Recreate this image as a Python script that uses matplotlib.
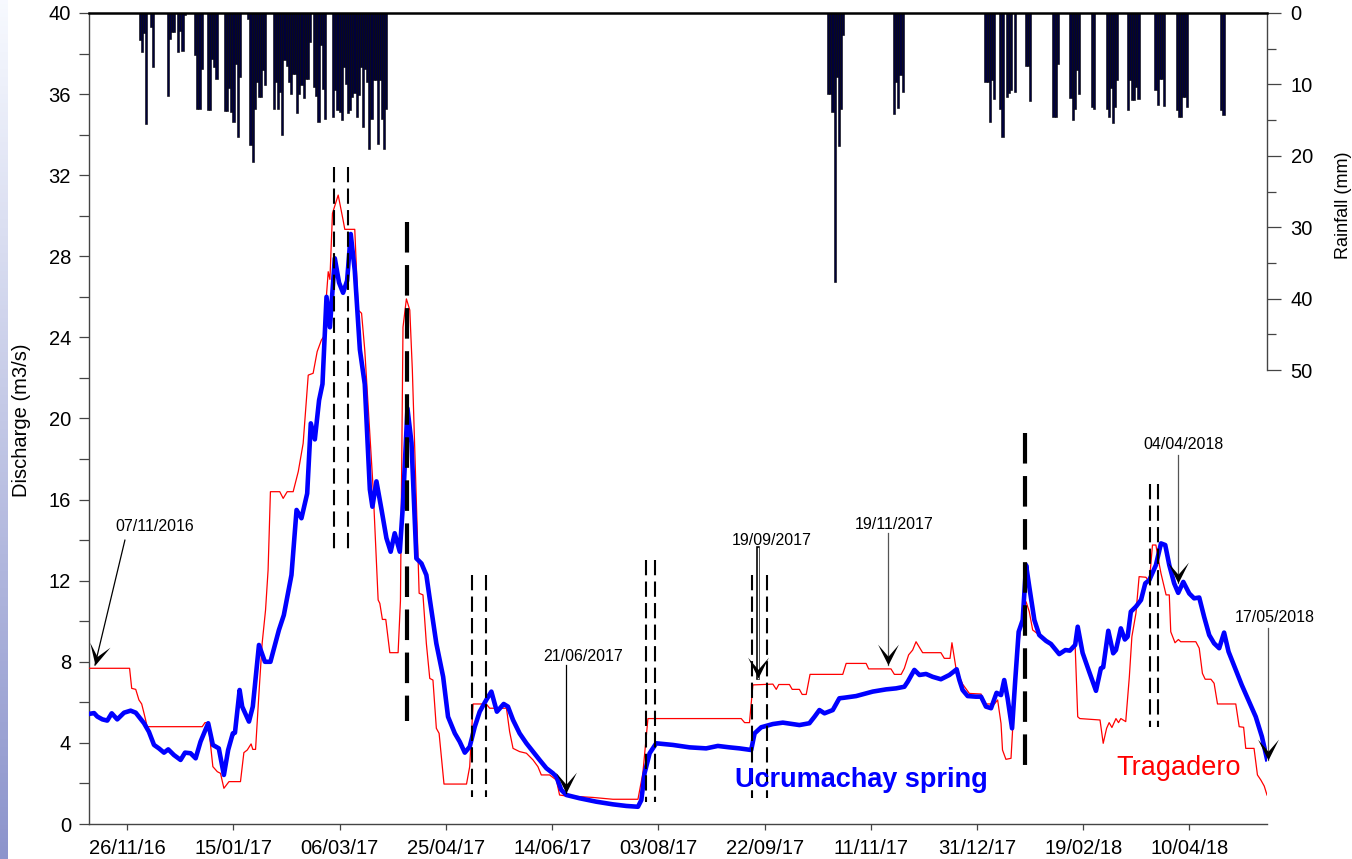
import numpy as np
import pandas as pd
import matplotlib
matplotlib.use('Agg')
import matplotlib.pyplot as plt
from matplotlib.markers import MarkerStyle
from matplotlib.path import Path
from matplotlib.transforms import Affine2D

plt.rcParams['font.family'] = ['Liberation Sans', 'DejaVu Sans']
plt.rcParams['lines.scale_dashes'] = False

# ---------------- data (x = days since START) ----------------
START = pd.Timestamp('2016-11-08')

TICK_DATES = ['2016-11-26', '2017-01-15', '2017-03-06', '2017-04-25', '2017-06-14',
              '2017-08-03', '2017-09-22', '2017-11-11', '2017-12-31', '2018-02-19', '2018-04-10']
TICK_LABELS = ['26/11/16', '15/01/17', '06/03/17', '25/04/17', '14/06/17',
               '03/08/17', '22/09/17', '11/11/17', '31/12/17', '19/02/18', '10/04/18']

# Ucrumachay spring discharge (m3/s)
UCRU_DAY = [0, 2.4, 3.9, 6.3, 8.6, 10.7, 13.3, 16.5, 19.6, 22, 25.9, 28.2, 30.6, 32.9, 35.3, 37.3,
            40, 43.1, 45.2, 47.8, 50.2, 52.5, 56.1, 58.3, 61.1, 63.5, 65.5, 67.7, 68.7, 70.9, 72.1,
            75.3, 77.1, 80, 82.8, 85.4, 89.4, 91.7, 95.3, 97.7, 100, 102.7, 104.4, 106.3, 108.3,
            109.9, 111.8, 113.4, 115.7, 117.7, 119.6, 121.5, 123.2, 125.1, 127.5, 129.8, 132.2,
            133.4, 135.3, 137.7, 140, 142, 143.9, 146.3, 147.8, 149.9, 151.8, 154.1, 156.5, 158.8,
            160.4, 163.5, 166.7, 169, 172.2, 174.5, 176.9, 179.2, 181.6, 183.9, 187, 189.4, 192,
            195.2, 197.2, 199.6, 202.7, 205.9, 209, 212.1, 215.3, 218.4, 220, 222.3, 224.7, 230.9,
            238.8, 246.6, 252.9, 258.4, 260, 261.5, 263.9, 267, 274.8, 282.7, 290.5, 296, 301.5,
            306.2, 311.7, 313.3, 316.4, 321.9, 326.6, 334.4, 339.1, 341.5, 343.8, 346.2, 350.1,
            353.2, 355.6, 361.1, 368.9, 375.2, 379.9, 383.8, 385.4, 388.5, 390.9, 394, 397.1, 401,
            405, 408.4, 409.7, 411.2, 413.6, 417.5, 419.9, 422.2, 424.6, 427.2, 429.3, 430.8, 432.4,
            434.5, 436, 437.6, 439.5, 441.1, 442.6, 445, 447.3, 450.5, 452.8, 456.7, 459.6, 461.7,
            464.2, 465.4, 467.7, 470.8, 474, 476.3, 477.4, 479.8, 482.1, 483.4, 485.7, 487.6, 488.9,
            490.4, 492.8, 495.2, 497.2, 499.1, 502.2, 504.6, 506.6, 508.5, 510.8, 512.7, 515.1,
            517.9, 520.2, 522.6, 524.9, 527.3, 529.6, 532, 534.3, 536.4, 539.5, 542.6, 546.1, 549.2,
            552.1, 554.5]
UCRU_Q = [5.43, 5.47, 5.3, 5.16, 5.1, 5.46, 5.16, 5.49, 5.59, 5.49, 4.97, 4.55, 3.9, 3.73, 3.52, 3.68,
          3.4, 3.16, 3.52, 3.49, 3.24, 4.06, 4.97, 3.9, 3.73, 2.42, 3.65, 4.47, 4.5, 6.61, 5.79,
          5.05, 5.79, 8.83, 8.0, 8.0, 9.57, 10.3, 12.28, 15.49, 15.08, 16.3, 19.76, 18.97, 20.9,
          21.7, 26.0, 24.5, 27.9, 26.7, 26.2, 26.8, 29.1, 27.3, 23.4, 21.7, 16.5,
          15.65, 16.9, 15.5, 14.1, 13.43, 14.34, 13.43, 15.8, 20.5, 18.8, 13.1, 12.85, 12.28,
          11.1, 8.9, 7.26, 5.29, 4.47, 4.06, 3.52, 3.81, 4.8, 5.54, 6.12, 6.53, 5.54,
          5.92, 5.79, 5.13, 4.47, 3.98, 3.57, 3.16, 2.75, 2.5, 2.33, 1.68, 1.43, 1.27,
          1.1, 0.97, 0.89, 0.85, 1.18, 2.5, 3.49, 3.98, 3.9, 3.78, 3.73, 3.85, 3.78,
          3.73, 3.65, 4.47, 4.77, 4.93, 5.0, 4.88, 4.97, 5.29, 5.62, 5.46, 5.62,
          6.2, 6.23, 6.31, 6.53, 6.64, 6.69, 6.77, 7.02, 7.6, 7.35, 7.4, 7.26, 7.14,
          7.35, 7.63, 7.1, 6.61, 6.31, 6.28, 6.28, 5.79, 5.71, 6.47, 6.36, 7.1, 6.2,
          4.72, 7.1, 9.48, 10.06, 12.77, 11.7, 10.06, 9.32, 9.03, 8.88, 8.38, 8.58, 8.55,
          8.83, 9.73, 8.44, 7.51, 6.57, 7.68, 7.73, 9.53, 8.42, 8.58, 9.65, 9.1, 9.24,
          10.47, 10.72, 11.05, 11.87, 12.03, 12.77, 13.84, 13.76, 12.77, 11.87, 11.4, 11.94,
          11.37, 11.13, 11.17, 10.22, 9.32, 8.91, 8.67, 9.44, 8.5, 7.68, 6.86, 6.03, 5.29,
          4.31, 3.2]

# Tragadero discharge (m3/s)
TRAG_DAY = [0, 19.1, 20.1, 22, 23.5, 24.8, 25.9, 27.4, 53.3, 54.6, 56.1, 58.3, 60.4, 61.9, 63.5, 65.9,
            71.3, 72.9, 74.5, 76.3, 77.1, 78.4, 80, 81.5, 83.1, 84.3, 85.4, 89.8, 91.4, 93.3, 96.1,
            98.5, 100.8, 103.2, 105.5, 107.4, 109.4, 110.5, 111.5, 112.6, 113.4, 114.6, 117.3,
            119.6, 120.4, 125.1, 126.7, 128.3, 129.8, 133.7, 136.1, 136.9, 138.1, 139.7, 141.6,
            145.5, 146.6, 147.8, 149.4, 151, 152.2, 154.1, 155.4, 157.2, 158.8, 160.4, 161.9,
            163.5, 164.8, 167.1, 177.7, 179.2, 180.8, 187, 188.6, 196.5, 198, 199.6, 202.7, 205.9,
            209, 211.3, 212.9, 216.8, 220, 221.5, 224.7, 230.9, 237.2, 246.6, 258.4, 260.7, 263.1,
            307, 308.6, 310.9, 312.5, 321.9, 323.5, 324.7, 329.7, 331, 334.4, 335.7, 337.6, 339.4,
            354.8, 356.4, 365.8, 367, 377.5, 379.1, 382.3, 383.8, 385.8, 387.7, 389.3, 392.4, 401,
            402.6, 405.3, 406.2, 408.1, 411.2, 414.4, 419.9, 421.4, 426.2, 427.7, 429.3, 430,
            431.6, 434, 435.1, 437.1, 438.7, 441.1, 442.6, 444.2, 447.3, 452, 456.7, 463, 464.2,
            465.4, 466.4, 475.9, 477.4, 479, 480.2, 481.5, 483.4, 484.6, 485.7, 488, 489.7, 490.9,
            492.8, 494.3, 497.5, 499.1, 500.6, 502.2, 503.4, 504.6, 507, 508.5, 509.2, 511.2,
            512.8, 513.9, 521, 522.6, 524.1, 525.4, 528.1, 529.6, 531.2, 539.8, 541.4, 543.5,
            544.5, 548.4, 550, 551.6, 553.2, 554.5]
TRAG_Q = [7.68, 7.68, 6.69, 6.64, 6.12, 5.92, 5.46, 4.8, 4.8, 5.0, 5.0, 2.83, 2.58, 2.5, 1.76, 2.09,
          2.09, 3.52, 3.65, 3.95, 3.68, 3.68, 6.45, 8.91, 10.55, 12.53, 16.39, 16.39, 16.06, 16.39, 16.39,
          17.38, 18.77, 22.14, 22.23, 23.3, 23.87, 24.04, 25.68, 27.24, 26.86, 30.12, 31.02,
          29.79, 29.33, 29.33, 25.35, 25.19, 23.38, 16.63, 11.05, 10.88, 10.09, 10.09, 8.45,
          8.45, 11.0, 24.5, 25.9, 25.35, 22.4, 15.8, 11.38, 11.3, 8.9, 7.18, 7.1,
          4.72, 4.47, 1.97, 1.97, 2.83, 5.92, 5.92, 5.71, 5.71, 4.55, 3.73, 3.57, 3.49,
          3.16, 2.83, 2.42, 2.42, 2.17, 1.43, 1.38, 1.35, 1.31, 1.22, 1.22, 2.5, 5.2,
          5.2, 5.0, 5.0, 6.86, 6.9, 6.64, 6.88, 6.88, 6.64, 6.64, 6.39, 6.39, 7.38,
          7.38, 7.92, 7.92, 7.65, 7.65, 7.38, 7.38, 7.68, 8.34, 8.58, 8.99, 8.45, 8.45,
          8.17, 8.17, 8.94, 7.68, 6.9, 6.44, 6.41, 5.92, 5.92, 6.12, 4.96, 3.65,
          3.19, 3.24, 5.29, 8.25, 9.89, 10.96, 10.47, 9.57, 9.32, 8.91, 8.45, 8.67, 8.78,
          5.29, 5.2, 5.13, 3.98, 4.72, 5.0, 4.76, 5.2, 5.0, 5.2, 5.05, 7.26, 9.24,
          10.39, 12.2, 12.17, 11.94, 13.76, 13.76, 13.02, 12.36, 11.3, 11.3, 9.48, 8.94,
          9.1, 8.99, 8.99, 8.67, 7.43, 7.14, 7.14, 6.94, 5.92, 5.92, 4.8, 4.77,
          3.73, 3.73, 2.42, 2.17, 1.87, 1.43]

# Daily rainfall (mm)
RAIN_DAY = [24, 25, 26, 27, 29, 30, 37, 38, 39, 40, 42, 43, 44, 45, 50, 51, 52, 53, 56, 57, 58, 59, 60,
            64, 65, 66, 67, 68, 69, 70, 71, 75, 76, 77, 78, 79, 80, 81, 82, 83, 87, 88, 89, 90, 91,
            92, 93, 94, 95, 96, 97, 98, 99, 100, 101, 102, 103, 104, 106, 107, 108, 109, 110, 111,
            115, 116, 117, 118, 119, 120, 121, 122, 123, 124, 125, 126, 127, 128, 129, 130, 131,
            132, 133, 134, 135, 136, 137, 138, 139, 140,
            348, 349, 350, 351, 352, 353, 354, 355,
            379, 380, 381, 382, 383,
            422, 423, 424, 425, 426, 429, 430, 432, 433, 434, 436,
            441, 442, 443, 454, 455, 456, 462, 463, 464, 465, 466, 472, 473,
            479, 480, 481, 482, 483, 484, 489, 490, 491, 492, 493, 494,
            502, 503, 504, 505, 506, 512, 513, 514, 515, 516, 517, 533, 534]
RAIN_MM = [3.8, 5.4, 2.8, 15.5, 2.0, 7.6, 11.6, 3.6, 2.6, 2.6, 5.4, 2.5, 5.3, 0.3, 5.9, 13.4, 13.4, 7.9,
           13.6, 13.6, 6.4, 7.5, 9.2, 13.7, 13.7, 10.5, 13.8, 15.3, 7.1, 17.3, 9.0, 0.8, 18.5, 20.8,
           13.4, 9.6, 11.8, 11.8, 8.0, 10.1, 13.5, 9.6, 13.5, 11.0, 17.1, 6.6, 7.4, 9.6, 11.4, 8.5,
           8.5, 14.0, 11.4, 10.1, 11.9, 9.3, 9.3, 4.0, 10.4, 11.6, 15.2, 4.5, 10.7, 14.8,
           14.5, 10.8, 13.6, 13.8, 15.0, 7.5, 10.0, 14.0, 13.6, 11.7, 11.2, 14.5, 11.5, 7.5, 15.9,
           7.9, 9.6, 19.1, 14.8, 9.4, 9.4, 18.4, 9.4, 14.8, 19.0, 13.4,
           11.3, 11.3, 13.8, 37.7, 9.0, 18.6, 13.5, 3.1,
           14.1, 9.7, 13.3, 8.7, 11.1,
           9.7, 9.7, 15.3, 9.4, 12.1, 13.4, 17.4, 11.8, 11.2, 10.8, 11.1,
           7.4, 7.4, 12.3, 14.5, 14.6, 7.1, 11.9, 15.0, 13.4, 8.0, 11.3, 13.1, 13.5,
           13.5, 14.6, 10.5, 15.4, 13.1, 9.4, 13.6, 9.4, 12.2, 12.2, 10.4, 12.0,
           10.8, 12.9, 9.3, 9.3, 13.0, 13.6, 14.6, 14.6, 11.7, 11.8, 13.2, 13.6, 14.3]

# Event markers (dashed verticals): day, bottom, top, heavy?
EVENT_DAY = [115.2, 121.7, 149.7, 180.5, 187.0, 262.0, 266.6, 312.2, 319.2, 440.6, 499.5, 503.3]
EVENT_LOW = [13.5, 13.5, 5.1, 1.33, 1.33, 1.1, 1.1, 1.3, 1.3, 2.47, 4.79, 4.79]
EVENT_HIGH = [32.4, 32.4, 29.7, 12.3, 12.3, 13.0, 13.0, 12.3, 12.3, 19.3, 16.77, 16.77]
EVENT_HEAVY = [False, False, True, False, False, False, False, False, False, True, False, False]

# Annotated sampling dates: label, arrow tip (day, Q)
ANN_LABEL = ['07/11/2016', '21/06/2017', '19/09/2017', '19/11/2017', '04/04/2018', '17/05/2018']
ANN_TIP_DAY = [2.8, 224.4, 314.8, 376.1, 512.7, 555.0]
ANN_TIP_Q = [7.84, 1.53, 7.2, 7.84, 11.89, 3.16]

# ---------------- figure ----------------
W, H = 1352, 859
fig = plt.figure(figsize=(W / 100, H / 100), dpi=100)


def box(l, t, r, b):
    return [l / W, 1 - b / H, (r - l) / W, (b - t) / H]


# left decorative gradient strip
gax = fig.add_axes([0, 0, 7 / W, 1])
top_c = np.array([0.97, 0.98, 1.0])
bot_c = np.array([0.55, 0.58, 0.80])
t = np.linspace(0, 1, 200)[:, None]
grad = (top_c * (1 - t) + bot_c * t)[:, None, :]
gax.imshow(grad, aspect='auto', extent=[0, 1, 0, 1])
gax.axis('off')

ax = fig.add_axes(box(89, 13, 1267, 824))
axr = fig.add_axes(box(89, 13, 1267, 370))

XMAX = 554.5
ax.set_xlim(0, XMAX)
ax.set_ylim(0, 40)

ax.plot(TRAG_DAY, TRAG_Q, color='#ff0000', lw=0.9, zorder=3)
ax.plot(UCRU_DAY, UCRU_Q, color='#0000ff', lw=3.3, zorder=4, solid_joinstyle='round')

for d, lo, hi, heavy in zip(EVENT_DAY, EVENT_LOW, EVENT_HIGH, EVENT_HEAVY):
    if heavy:
        ax.plot([d, d], [hi, lo], color='black', lw=3.0, dashes=(22, 9), zorder=5,
                dash_capstyle='butt')
    else:
        ax.plot([d, d], [hi, lo], color='black', lw=1.5, dashes=(11, 4.5), zorder=5,
                dash_capstyle='butt')

# annotation arrows
head = Path([(0, 0), (-0.5, 1.0), (0, 0.42), (0.5, 1.0), (0, 0)],
            [Path.MOVETO, Path.LINETO, Path.LINETO, Path.LINETO, Path.CLOSEPOLY])
ann_text = [(31.0, 14.65), (232.4, 8.24), (321.3, 13.96), (379.1, 14.75), (515.0, 18.74), (558.3, 10.2)]
ann_start = [(16.9, 14.0), (224.4, 7.84), (314.8, 13.6), (376.1, 14.35), (512.7, 18.2), (555.0, 9.67)]
ann_color = ['black', 'black', 'black', '#555555', '#555555', '#555555']
ann_hollow = [False, False, True, False, False, False]
for lab, td, tq, (tx, ty), (sx, sy), col, hol in zip(ANN_LABEL, ANN_TIP_DAY, ANN_TIP_Q,
                                                      ann_text, ann_start, ann_color, ann_hollow):
    ax.text(tx, ty, lab, ha='center', va='center', fontsize=11.5, color='black', zorder=7)
    if hol:
        ax.plot([sx, td], [sy, tq], color='black', lw=2.6, zorder=6, clip_on=False)
        ax.plot([sx, td], [sy, tq], color='white', lw=1.0, zorder=6, clip_on=False)
    else:
        ax.plot([sx, td], [sy, tq], color=col, lw=0.9, zorder=6, clip_on=False)
    p0 = ax.transData.transform((sx, sy))
    p1 = ax.transData.transform((td, tq))
    dx, dy = p1 - p0
    ang = np.degrees(np.arctan2(dx, -dy))
    ms = MarkerStyle(head, transform=Affine2D().rotate_deg(ang))
    ax.plot([td], [tq], marker=ms, markersize=30, color='black', markeredgewidth=0,
            zorder=7, clip_on=False, linestyle='none')

ax.text(303.9, 1.82, 'Ucrumachay spring', color='#0000ff', fontsize=19.5, fontweight='bold',
        ha='left', va='baseline', zorder=8)
ax.text(483.5, 2.42, 'Tragadero', color='#ff0000', fontsize=19.5, ha='left', va='baseline', zorder=8)

tick_pos = [(pd.Timestamp(d) - START).days for d in TICK_DATES]
ax.set_xticks(tick_pos)
ax.set_xticklabels(TICK_LABELS)
ax.set_yticks(np.arange(0, 41, 4))
ax.set_yticks(np.arange(2, 40, 4), minor=True)
ax.tick_params(axis='y', which='both', direction='out', length=7, width=0.9, color='#444444',
               labelsize=14.5, pad=6)
ax.tick_params(axis='x', which='both', direction='out', length=4, width=0.9, color='#444444',
               labelsize=14.5, pad=7)
for s in ['top', 'right']:
    ax.spines[s].set_visible(False)
for s in ['left', 'bottom']:
    ax.spines[s].set_color('#444444')
    ax.spines[s].set_linewidth(1.0)

# rainfall axes
axr.set_xlim(0, XMAX)
axr.set_ylim(50, 0)
axr.bar(RAIN_DAY, RAIN_MM, width=1.0, color='#00003a', edgecolor='#000000', linewidth=0.4)
axr.patch.set_visible(False)
axr.set_xticks([])
axr.yaxis.tick_right()
axr.set_yticks(np.arange(0, 51, 10))
axr.set_yticks(np.arange(5, 50, 10), minor=True)
axr.tick_params(axis='y', which='major', direction='out', length=10, width=0.9, color='#444444',
                labelsize=14.5, pad=7)
axr.tick_params(axis='y', which='minor', direction='out', length=6.5, width=0.9, color='#444444')
for s in ['left', 'bottom']:
    axr.spines[s].set_visible(False)
axr.spines['top'].set_color('black')
axr.spines['top'].set_linewidth(1.8)
axr.spines['right'].set_color('#444444')
axr.spines['right'].set_linewidth(1.0)

fig.text(22 / W, 1 - 420 / H, 'Discharge (m3/s)', rotation=90, ha='center', va='center', fontsize=14.5)
fig.text(1343 / W, 1 - 205 / H, 'Rainfall (mm)', rotation=90, ha='center', va='center', fontsize=13)

fig.savefig('out.png', dpi=100)
